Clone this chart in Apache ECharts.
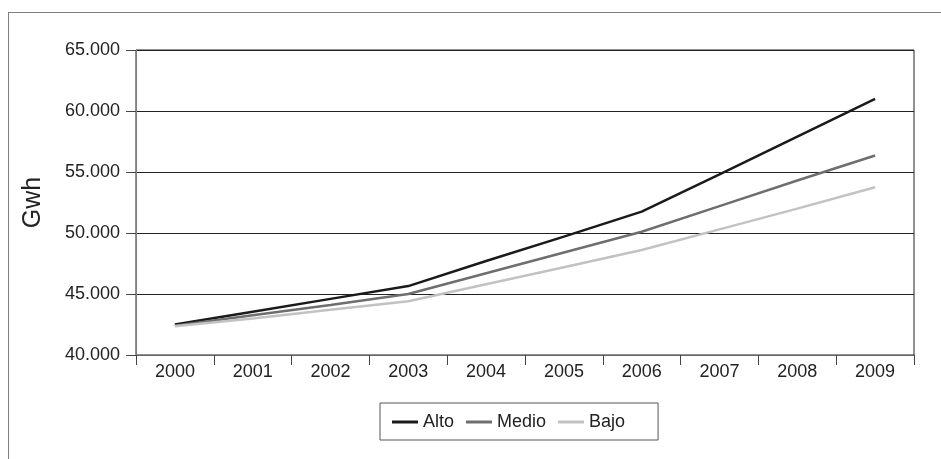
<!DOCTYPE html>
<html>
<head>
<meta charset="utf-8">
<script src="https://cdn.jsdelivr.net/npm/echarts@6/dist/echarts.min.js"></script>
<style>
  html, body { margin: 0; padding: 0; background: #fff; }
  #chart { width: 941px; height: 459px; position: absolute; left: 0; top: 0; }
  #frame { position: absolute; left: 8px; top: 12px; width: 933px; height: 447px;
           border-top: 1px solid #808080; border-left: 1px solid #808080; pointer-events: none; }
</style>
</head>
<body>
<div id="chart"></div>
<div id="frame"></div>
<script>
// Annual demand projections (GWh) under three scenarios
const years = ['2000', '2001', '2002', '2003', '2004', '2005', '2006', '2007', '2008', '2009'];
const alto  = [42500, 43550, 44600, 45650, 47700, 49700, 51750, 54800, 57900, 61000];
const medio = [42400, 43250, 44100, 45000, 46700, 48400, 50100, 52200, 54300, 56350];
const bajo  = [42350, 43000, 43700, 44400, 45800, 47200, 48600, 50300, 52000, 53750];
const seriesNames = ['Alto', 'Medio', 'Bajo'];

const fmt = v => String(v).replace(/\B(?=(\d{3})+(?!\d))/g, '.');
const font = 'Liberation Sans, Arial, sans-serif';

const chart = echarts.init(document.getElementById('chart'), null, { renderer: 'canvas' });
chart.setOption({
  animation: false,
  backgroundColor: '#fff',
  grid: { left: 136, top: 50, right: 27, bottom: 104, show: true, borderColor: '#222', borderWidth: 1 },
  legend: {
    data: seriesNames,
    left: 380, top: 403,
    orient: 'horizontal',
    icon: 'rect', itemWidth: 26, itemHeight: 3, itemGap: 12,
    padding: [10, 33, 9, 12],
    borderColor: '#555', borderWidth: 1,
    textStyle: { fontFamily: font, fontSize: 18, color: '#222' }
  },
  xAxis: {
    type: 'category', data: years, boundaryGap: true,
    axisLine: { lineStyle: { color: '#666', width: 1 } },
    axisTick: { show: true, length: 10, lineStyle: { color: '#444' } },
    axisLabel: { fontFamily: font, fontSize: 18, color: '#222', margin: 8 }
  },
  yAxis: {
    type: 'value', min: 40000, max: 65000, interval: 5000,
    name: 'Gwh', nameLocation: 'middle', nameRotate: 90, nameGap: 90,
    nameTextStyle: { fontFamily: font, fontSize: 25, color: '#222' },
    axisLine: { show: true, lineStyle: { color: '#808080', width: 1 } },
    axisTick: { show: true, length: 10, lineStyle: { color: '#444' } },
    axisLabel: { fontFamily: font, fontSize: 18, color: '#222', margin: 16, formatter: fmt },
    splitLine: { lineStyle: { color: '#222', width: 1 } }
  },
  series: [
    { name: 'Alto', type: 'line', data: alto, symbol: 'none', color: '#1a1a1a', lineStyle: { width: 2.5, color: '#1a1a1a' } },
    { name: 'Medio', type: 'line', data: medio, symbol: 'none', color: '#6e6e6e', lineStyle: { width: 2.5, color: '#6e6e6e' } },
    { name: 'Bajo', type: 'line', data: bajo, symbol: 'none', color: '#c2c2c2', lineStyle: { width: 2.5, color: '#c2c2c2' } }
  ]
});
</script>
</body>
</html>
